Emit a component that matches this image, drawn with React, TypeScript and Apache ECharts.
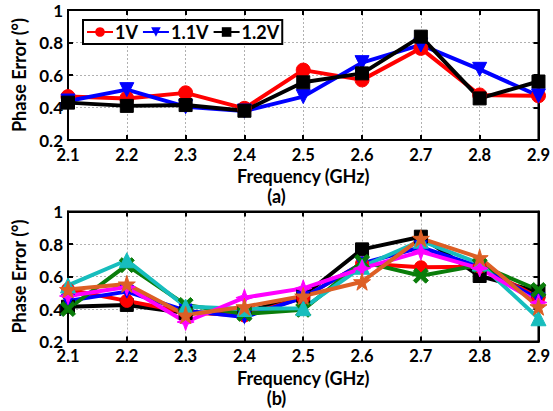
import React, { useEffect, useRef } from "react";
import * as echarts from "echarts";

const freqs = ["2.1", "2.2", "2.3", "2.4", "2.5", "2.6", "2.7", "2.8", "2.9"];

// Panel (a)
const a1V = [0.467, 0.456, 0.49, 0.395, 0.63, 0.57, 0.764, 0.477, 0.472];
const a11V = [0.44, 0.51, 0.405, 0.378, 0.467, 0.676, 0.785, 0.635, 0.472];
const a12V = [0.43, 0.41, 0.415, 0.38, 0.555, 0.61, 0.836, 0.456, 0.56];

// Panel (b)
const bBlack = [0.414, 0.425, 0.375, 0.38, 0.48, 0.767, 0.845, 0.603, 0.506];
const bRed = [0.52, 0.45, 0.38, 0.36, 0.47, 0.68, 0.657, 0.66, 0.47];
const bBlue = [0.45, 0.507, 0.39, 0.35, 0.47, 0.68, 0.78, 0.66, 0.46];
const bGreen = [0.4, 0.67, 0.425, 0.37, 0.395, 0.69, 0.605, 0.67, 0.517];
const bCyan = [0.545, 0.7, 0.415, 0.4, 0.405, 0.66, 0.82, 0.68, 0.343];
const bMagenta = [0.48, 0.535, 0.32, 0.47, 0.527, 0.65, 0.753, 0.65, 0.44];
const bOrange = [0.52, 0.554, 0.363, 0.414, 0.48, 0.568, 0.835, 0.716, 0.414];

const yTicks = { min: 0.2, max: 1, interval: 0.2 };

const STAR = "path://M50,0 L61,35 L98,35 L68,57 L79,91 L50,70 L21,91 L32,57 L2,35 L39,35 Z";
const XMARK = "path://M0,18 L18,0 L50,32 L82,0 L100,18 L68,50 L100,82 L82,100 L50,68 L18,100 L0,82 L32,50 Z";
const STAR4 = "path://M50,0 L63,37 L100,50 L63,63 L50,100 L37,63 L0,50 L37,37 Z";

const FONT = "Lato";

export default function App() {
  const ref = useRef<HTMLDivElement>(null);
  useEffect(() => {
    if (!ref.current) return;
    const chart = echarts.init(ref.current, null, { renderer: "svg" });
    const left = 68;
    const width = 473;
    const grids = [
      { left, top: 10, width, height: 130 },
      { left, top: 211.5, width, height: 130 },
    ].map((g) => ({ ...g, show: true, borderColor: "#000", borderWidth: 2, backgroundColor: "transparent" }));

    const label = { fontFamily: FONT, fontWeight: "bold", fontSize: 17, color: "#000", lineHeight: 15 };
    const xAxes: any[] = [];
    const yAxes: any[] = [];
    [0, 1].forEach((gi) => {
      xAxes.push({
        type: "category",
        data: freqs,
        gridIndex: gi,
        boundaryGap: false,
        name: "Frequency (GHz)",
        nameLocation: "middle",
        nameGap: 28,
        nameTextStyle: { ...label, fontSize: 18, lineHeight: 16 },
        axisLine: { lineStyle: { color: "#000", width: 2 } },
        axisTick: { inside: true, length: 5, lineStyle: { color: "#000", width: 2 } },
        axisLabel: { ...label, fontSize: 16.5, margin: 7 },
        splitLine: { show: true, lineStyle: { color: "#b0b0b0", type: [2, 2], width: 1 } },
      });
      xAxes.push({
        type: "category",
        data: freqs,
        gridIndex: gi,
        position: "top",
        boundaryGap: false,
        axisLine: { lineStyle: { color: "#000", width: 2 } },
        axisTick: { inside: true, length: 5, lineStyle: { color: "#000", width: 2 } },
        axisLabel: { show: false },
        splitLine: { show: false },
      });
      yAxes.push({
        type: "value",
        gridIndex: gi,
        ...yTicks,
        name: "Phase Error (°)",
        nameLocation: "middle",
        nameGap: 40,
        nameTextStyle: { ...label, fontSize: 18 },
        axisLine: { show: true, lineStyle: { color: "#000", width: 2 } },
        axisTick: { show: true, inside: true, length: 5, lineStyle: { color: "#000", width: 2 } },
        axisLabel: { ...label, margin: 5 },
        splitLine: { show: true, lineStyle: { color: "#b0b0b0", type: [2, 2], width: 1 } },
      });
      yAxes.push({
        type: "value",
        gridIndex: gi,
        ...yTicks,
        position: "right",
        axisLine: { show: true, lineStyle: { color: "#000", width: 2 } },
        axisTick: { show: true, inside: true, length: 5, lineStyle: { color: "#000", width: 2 } },
        axisLabel: { show: false },
        splitLine: { show: false },
      });
    });

    const mk = (name: string, data: number[], color: string, symbol: string, size: number, gi: number) => ({
      type: "line",
      name,
      data,
      xAxisIndex: gi * 2,
      yAxisIndex: gi * 2,
      symbol,
      symbolSize: size,
      showAllSymbol: true,
      lineStyle: { color, width: 4 },
      itemStyle: { color, borderColor: color },
      emphasis: { disabled: true },
    });

    const series = [
      mk("1V", a1V, "#ff0000", "circle", 14, 0),
      mk("1.1V", a11V, "#0000ff", "triangle", 14, 0),
      mk("1.2V", a12V, "#000000", "rect", 13, 0),
      mk("b-black", bBlack, "#000000", "rect", 13, 1),
      mk("b-red", bRed, "#ff0000", "circle", 13, 1),
      mk("b-blue", bBlue, "#0000ff", "triangle", 13, 1),
      mk("b-green", bGreen, "#0a7d0a", XMARK, 15, 1),
      mk("b-cyan", bCyan, "#17bdbd", "triangle", 15, 1),
      mk("b-magenta", bMagenta, "#ff00ff", STAR4, 17, 1),
      mk("b-orange", bOrange, "#dd5f25", STAR, 17, 1),
    ];
    (series[1] as any).symbolRotate = 180;
    (series[5] as any).symbolRotate = 180;

    chart.setOption({
      animation: false,
      backgroundColor: "#fff",
      grid: grids,
      xAxis: xAxes,
      yAxis: yAxes,
      legend: {
        data: ["1V", "1.1V", "1.2V"],
        left: 83,
        top: 20,
        itemWidth: 26,
        itemHeight: 12,
        itemGap: 4,
        padding: [3, 3],
        borderColor: "#000",
        borderWidth: 2,
        backgroundColor: "#fff",
        textStyle: { ...label, fontSize: 18, lineHeight: 18, padding: [0, 0, 0, -3] },
      },
      graphic: [
        { type: "text", left: "center", top: 187, style: { text: "(a)", font: `bold 18px ${FONT}`, fill: "#000", lineHeight: 17 } },
        { type: "text", left: "center", top: 389, style: { text: "(b)", font: `bold 18px ${FONT}`, fill: "#000", lineHeight: 17 } },
      ],
      series,
    });
    return () => chart.dispose();
  }, []);
  return <div ref={ref} style={{ position: "fixed", left: 0, top: 0, width: 553, height: 411 }} />;
}
